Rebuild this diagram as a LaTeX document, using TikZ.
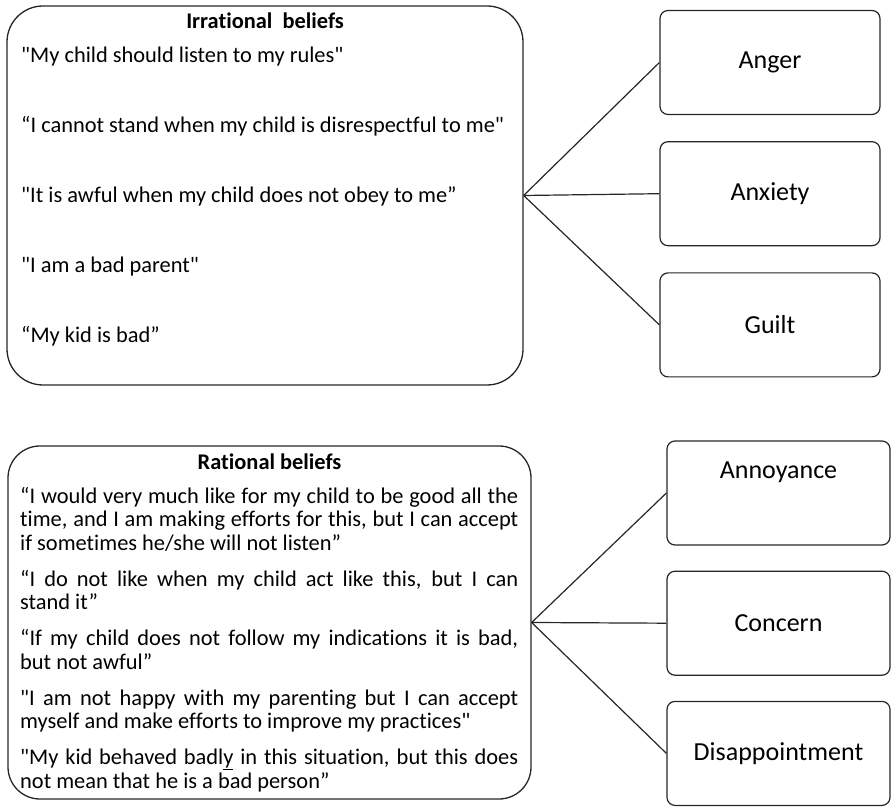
\documentclass[tikz,border=0pt]{standalone}
\usepackage{fontspec}
\setmainfont{Carlito}[Ligatures=NoCommon]
\usetikzlibrary{positioning}
\newcommand{\sq}{\textquotedbl}
\newcommand{\lowbar}[1]{\setbox0\hbox{#1}\rlap{\rule[-5pt]{\wd0}{0.9pt}}#1}
\begin{document}
\begin{tikzpicture}
[x=1pt,y=1pt,line join=round]
\tikzstyle{bigbox}=[draw=black!85, line width=1.3pt, rectangle, inner sep=0pt]
\tikzstyle{emobox}=[draw=black!85, line width=1.2pt, rectangle, rounded corners=8pt,
  minimum width=220pt, minimum height=104pt, inner sep=0pt, font=\fontsize{26}{30}\selectfont]
\tikzstyle{belief}=[anchor=base west, inner sep=0pt, font=\fontsize{22.4}{23.5}\selectfont]
\tikzstyle{heading}=[anchor=base, inner sep=0pt, font=\fontsize{22.4}{23.5}\selectfont\bfseries]
\tikzstyle{link}=[draw=black!85, line width=1.2pt]
\useasboundingbox (0,0) rectangle (891,806);
% irrational beliefs
\node[bigbox, rounded corners=36pt, minimum width=516pt, minimum height=379pt] (irr) at (265,610.5) {};
\node[heading] (irrtitle) at (265,777) {Irrational~ beliefs};
\node[belief] (irr1) at (21,743) {\sq My child should listen to my rules\sq};
\node[belief] (irr2) at (21,673) {“I cannot stand when my child is disrespectful to me\sq};
\node[belief] (irr3) at (21,603) {\sq It is awful when my child does not obey to me”};
\node[belief] (irr4) at (21,533) {\sq I am a bad parent\sq};
\node[belief] (irr5) at (21,463) {“My kid is bad”};
\node[emobox] (anger) at (770,743.5) {Anger};
\node[emobox, below=26pt of anger] (anxiety) {Anxiety};
\node[emobox, below=26pt of anxiety] (guilt) {Guilt};
\draw[link] (irr.east) -- (anger.west);
\draw[link] (irr.east) -- (anxiety.west);
\draw[link] (irr.east) -- (guilt.west);
% rational beliefs
\node[bigbox, rounded corners=32pt, minimum width=523pt, minimum height=353pt] (rat) at (269.5,183.5) {};
\node[heading] (rattitle) at (269.5,336) {Rational beliefs};
\node[anchor=north west, inner sep=0pt, text width=498pt, align=justify,
  font=\fontsize{22.4}{23.5}\selectfont] (ratlist) at (20,319.45)
  {\hyphenpenalty=10000\hfuzz=20pt\strut
   “I would very much like for my child to be good all the\linebreak
   time, and I am making efforts for this, but I can accept\linebreak
   if sometimes he/she will not listen”\par\vspace{12.5pt}
   “I do not like when my child act like this, but I can\linebreak
   stand it”\par\vspace{12.5pt}
   “If my child does not follow my indications it is bad,\linebreak
   but not awful”\par\vspace{12.5pt}
   \sq I am not happy with my parenting but I can accept\linebreak
   myself and make efforts to improve my practices\sq\par\vspace{12.5pt}
   \sq My kid behaved badl\lowbar{y} in this situation, but this does\linebreak
   not mean that he is a bad person”};
\node[emobox, minimum width=223pt, text depth=46pt] (annoyance) at (778.5,313) {Annoyance};
\node[emobox, minimum width=223pt, below=25pt of annoyance] (concern) {Concern};
\node[emobox, minimum width=223pt, below=25pt of concern] (disappointment) {Disappointment};
\draw[link] (rat.east) -- (annoyance.west);
\draw[link] (rat.east) -- (concern.west);
\draw[link] (rat.east) -- (disappointment.west);
\end{tikzpicture}
\end{document}
